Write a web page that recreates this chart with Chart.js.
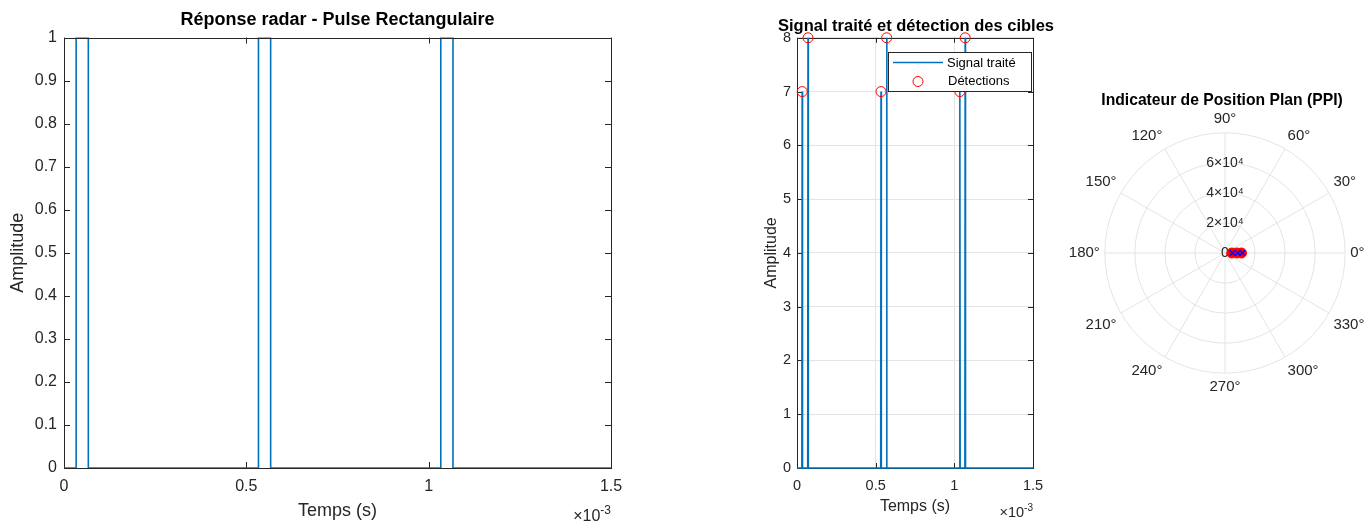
<!DOCTYPE html>
<html><head><meta charset="utf-8">
<script src="https://cdn.jsdelivr.net/npm/chart.js@4.4.0/dist/chart.umd.min.js"></script>
<style>
html,body{margin:0;padding:0;background:#fff;width:1364px;height:523px;overflow:hidden;position:relative;}
canvas{position:absolute;}
</style></head><body>
<canvas id="c1" width="675" height="523" style="left:0;top:0"></canvas>
<canvas id="c2" width="342" height="523" style="left:745px;top:0"></canvas>
<canvas id="c3" width="328" height="314" style="left:1058px;top:83px"></canvas>
<script>
// ---------- data: chart 1 (Réponse radar) ----------
const pulseTime = [0, 0.0333e-3, 0.0333e-3, 0.0667e-3, 0.0667e-3, 0.5333e-3, 0.5333e-3, 0.5667e-3, 0.5667e-3, 1.0333e-3, 1.0333e-3, 1.0667e-3, 1.0667e-3, 1.5e-3];
const pulseAmp  = [0, 0, 1, 1, 0, 0, 1, 1, 0, 0, 1, 1, 0, 0];
const timeTicks = [0, 0.5e-3, 1e-3, 1.5e-3];
const timeTickLabels = ['0', '0.5', '1', '1.5'];
const amp1Ticks = [0, 0.1, 0.2, 0.3, 0.4, 0.5, 0.6, 0.7, 0.8, 0.9, 1];
const amp1TickLabels = ['0', '0.1', '0.2', '0.3', '0.4', '0.5', '0.6', '0.7', '0.8', '0.9', '1'];

// ---------- data: chart 2 (Signal traité) ----------
const procTime = [0, 0.031e-3, 0.033e-3, 0.035e-3, 0.068e-3, 0.070e-3, 0.072e-3, 0.532e-3, 0.534e-3, 0.536e-3, 0.568e-3, 0.570e-3, 0.572e-3, 1.033e-3, 1.035e-3, 1.037e-3, 1.067e-3, 1.069e-3, 1.071e-3, 1.5e-3];
const procAmp  = [0, 0, 7, 0, 0, 8, 0, 0, 7, 0, 0, 8, 0, 0, 7, 0, 0, 8, 0, 0];
const detTime  = [0.033e-3, 0.070e-3, 0.534e-3, 0.570e-3, 1.035e-3, 1.069e-3];
const detAmp   = [7, 8, 7, 8, 7, 8];
const amp2Ticks = [0, 1, 2, 3, 4, 5, 6, 7, 8];
const amp2TickLabels = ['0', '1', '2', '3', '4', '5', '6', '7', '8'];

// ---------- data: chart 3 (PPI) ----------
const angleLabels = ['90°', '60°', '30°', '0°', '330°', '300°', '270°', '240°', '210°', '180°', '150°', '120°'];
const detAngleLabel = '0°';
const detRangeCircles = [4500, 8000, 11000];
const detRangeCrosses = [5000, 8500, 11500];
const rangeTicks = [0, 20000, 40000, 60000, 80000];
const rangeTickLabels = ['0', '2×10⁴', '4×10⁴', '6×10⁴', ''];

// ---------- styles ----------
const FONT = "'Liberation Sans', Arial, Helvetica, sans-serif";
const TXT = '#262626';
const GRIDC = '#e4e4e4';
const BLUE = '#0072BD';
const RED = '#FF0000';

Chart.defaults.font.family = FONT;
Chart.defaults.color = TXT;

function setTicks(values) { return s => { s.ticks = values.map(v => ({ value: v })); }; }

const boxPlugin = {
  id: 'mbox',
  beforeDatasetsDraw(chart, args, o) {
    const { ctx, chartArea: a } = chart;
    const x = chart.scales.x, y = chart.scales.y;
    ctx.save();
    ctx.strokeStyle = TXT; ctx.lineWidth = 1;
    ctx.beginPath();
    const L = o.tick || 5;
    x.ticks.forEach(t => {
      const p = Math.round(x.getPixelForValue(t.value)) + 0.5;
      ctx.moveTo(p, a.bottom); ctx.lineTo(p, a.bottom - L);
      ctx.moveTo(p, a.top); ctx.lineTo(p, a.top + L);
    });
    y.ticks.forEach(t => {
      const p = Math.round(y.getPixelForValue(t.value)) + 0.5;
      ctx.moveTo(a.left, p); ctx.lineTo(a.left + L, p);
      ctx.moveTo(a.right, p); ctx.lineTo(a.right - L, p);
    });
    ctx.stroke();
    ctx.strokeRect(Math.round(a.left) + 0.5, Math.round(a.top) + 0.5, Math.round(a.right - a.left), Math.round(a.bottom - a.top));
    // exponent label
    if (o.expSize) {
      ctx.fillStyle = TXT;
      ctx.textBaseline = 'alphabetic';
      ctx.textAlign = 'left';
      ctx.font = o.expSize + 'px ' + FONT;
      const base = o.expY;
      const w1 = ctx.measureText('×10').width;
      ctx.font = Math.round(o.expSize * 0.72) + 'px ' + FONT;
      const w2 = ctx.measureText('-3').width;
      const x0 = a.right - w1 - w2 + o.expDx;
      ctx.font = o.expSize + 'px ' + FONT;
      ctx.fillText('×10', x0, base);
      ctx.font = Math.round(o.expSize * 0.72) + 'px ' + FONT;
      ctx.fillText('-3', x0 + w1, base - o.expSize * 0.42);
    }
    ctx.restore();
  },
  afterDatasetsDraw(chart, args, o) {
    if (!o.topOver) return;
    const { ctx, chartArea: a } = chart;
    ctx.save();
    ctx.strokeStyle = TXT; ctx.lineWidth = 1;
    ctx.beginPath();
    ctx.moveTo(Math.round(a.left), Math.round(a.top) + 0.5);
    ctx.lineTo(Math.round(a.right) + 1, Math.round(a.top) + 0.5);
    ctx.stroke();
    ctx.restore();
  }
};

const legendPlugin = {
  id: 'mlegend',
  afterDatasetsDraw(chart, args, o) {
    if (!o.show) return;
    const { ctx, chartArea: a } = chart;
    const ds = chart.data.datasets;
    const right = Math.round(a.right) - 2, top = Math.round(a.top) + 14;
    const w = 143, h = 39;
    const left = right - w;
    ctx.save();
    ctx.fillStyle = '#fff';
    ctx.fillRect(left, top, w, h);
    ctx.strokeStyle = TXT; ctx.lineWidth = 1;
    ctx.strokeRect(left + 0.5, top + 0.5, w, h);
    ctx.font = '13px ' + FONT; ctx.fillStyle = '#000';
    ctx.textBaseline = 'middle'; ctx.textAlign = 'left';
    // entry 1: line
    ctx.strokeStyle = ds[0].borderColor; ctx.lineWidth = 1.5;
    ctx.beginPath(); ctx.moveTo(left + 5, top + 10.5); ctx.lineTo(left + 55, top + 10.5); ctx.stroke();
    ctx.fillText(ds[0].label, left + 59, top + 11);
    // entry 2: circle marker
    ctx.strokeStyle = ds[1].borderColor; ctx.lineWidth = 1;
    ctx.beginPath(); ctx.arc(left + 30, top + 29.5, 5, 0, Math.PI * 2); ctx.stroke();
    ctx.fillText(ds[1].label, left + 60, top + 29.5);
    ctx.restore();
  }
};

// ---------- chart 1 ----------
new Chart(document.getElementById('c1'), {
  type: 'scatter',
  data: { datasets: [{
    label: 'Pulse',
    data: pulseTime.map((t, i) => ({ x: t, y: pulseAmp[i] })),
    showLine: true, borderColor: BLUE, borderWidth: 1.6, pointRadius: 0, fill: false, tension: 0
  }] },
  options: {
    responsive: false, animation: false, events: [],
    layout: { padding: { left: 0, right: 64, top: 0, bottom: 0 } },
    plugins: {
      legend: { display: false }, tooltip: { enabled: false },
      title: { display: true, fullSize: false, text: 'Réponse radar - Pulse Rectangulaire', color: '#000',
        font: { family: FONT, size: 18, weight: 'bold' }, padding: { top: 9, bottom: 7 } },
      mbox: { tick: 6, expSize: 16, expY: 521, expDx: 0, topOver: true }
    },
    scales: {
      x: { type: 'linear', min: 0, max: 1.5e-3, afterBuildTicks: setTicks(timeTicks),
        afterFit: s => { s.height = 55; },
        ticks: { callback: (v, i) => timeTickLabels[i], font: { size: 16 }, color: TXT, padding: 9, maxRotation: 0 },
        grid: { display: false, drawTicks: false }, border: { display: false },
        title: { display: true, text: 'Temps (s)', font: { size: 18 }, color: TXT, padding: { top: 0, bottom: 1 } } },
      y: { min: 0, max: 1, afterBuildTicks: setTicks(amp1Ticks),
        afterFit: s => { s.width = 64; },
        ticks: { callback: (v, i) => amp1TickLabels[i], font: { size: 16 }, color: TXT, padding: 7 },
        grid: { display: false, drawTicks: false }, border: { display: false },
        title: { display: true, text: 'Amplitude', font: { size: 18 }, color: TXT, padding: { top: 7, bottom: 0 } } }
    }
  },
  plugins: [boxPlugin]
});

// ---------- chart 2 ----------
new Chart(document.getElementById('c2'), {
  type: 'scatter',
  data: { datasets: [
    { label: 'Signal traité', data: procTime.map((t, i) => ({ x: t, y: procAmp[i] })),
      showLine: true, borderColor: BLUE, borderWidth: 1.6, pointRadius: 0, fill: false, tension: 0, order: 2, clip: false },
    { label: 'Détections', data: detTime.map((t, i) => ({ x: t, y: detAmp[i] })),
      showLine: false, pointStyle: 'circle', pointRadius: 5, pointBorderWidth: 1, borderColor: RED,
      pointBorderColor: RED, backgroundColor: 'rgba(0,0,0,0)', pointBackgroundColor: 'rgba(0,0,0,0)', order: 1, clip: false }
  ] },
  options: {
    responsive: false, animation: false, events: [],
    layout: { padding: 0 },
    plugins: {
      legend: { display: false }, tooltip: { enabled: false },
      title: { display: true, fullSize: true, text: 'Signal traité et détection des cibles', color: '#000',
        font: { family: FONT, size: 16.5, weight: 'bold' }, padding: { top: 17, bottom: 1 } },
      mbox: { tick: 5, expSize: 14.5, expY: 517, expDx: 0, topOver: false },
      mlegend: { show: true }
    },
    scales: {
      x: { type: 'linear', min: 0, max: 1.5e-3, afterBuildTicks: setTicks(timeTicks),
        afterFit: s => { s.height = 55; },
        ticks: { callback: (v, i) => timeTickLabels[i], font: { size: 14.5 }, color: TXT, padding: 9, maxRotation: 0 },
        grid: { display: true, drawTicks: false, color: GRIDC }, border: { display: false },
        title: { display: true, text: 'Temps (s)', font: { size: 16 }, color: TXT, padding: { top: 0, bottom: 6.5 } } },
      y: { min: 0, max: 8, afterBuildTicks: setTicks(amp2Ticks),
        afterFit: s => { s.width = 52; },
        ticks: { callback: (v, i) => amp2TickLabels[i], font: { size: 14.5 }, color: TXT, padding: 6 },
        grid: { display: true, drawTicks: false, color: GRIDC }, border: { display: false },
        title: { display: true, text: 'Amplitude', font: { size: 16 }, color: TXT, padding: { top: 17, bottom: 0 } } },
      yR: { axis: 'y', position: 'right', display: true, min: 0, max: 8,
        afterFit: s => { s.width = 54; },
        ticks: { display: false }, grid: { display: false, drawTicks: false }, border: { display: false } }
    }
  },
  plugins: [boxPlugin, legendPlugin]
});

// ---------- chart 3 ----------
const zeroLabelPlugin = {
  id: 'zeroLabel',
  beforeDatasetsDraw(chart) {
    const r = chart.scales.r, ctx = chart.ctx;
    ctx.save();
    ctx.font = '14px ' + FONT; ctx.fillStyle = TXT;
    ctx.textAlign = 'center'; ctx.textBaseline = 'middle';
    ctx.fillText(rangeTickLabels[0], r.xCenter, r.yCenter);
    ctx.restore();
  }
};

const polarSets = [];
detRangeCircles.forEach(v => polarSets.push({
  label: 'cible', data: angleLabels.map(l => l === detAngleLabel ? v : null),
  showLine: false, borderWidth: 0, fill: false, pointStyle: 'circle', pointRadius: 5,
  pointBackgroundColor: RED, pointBorderColor: RED, pointBorderWidth: 1, order: 2
}));
detRangeCrosses.forEach(v => polarSets.push({
  label: 'x', data: angleLabels.map(l => l === detAngleLabel ? v : null),
  showLine: false, borderWidth: 0, fill: false, pointStyle: 'crossRot', pointRadius: 4,
  pointBackgroundColor: '#0000FF', pointBorderColor: '#0000FF', pointBorderWidth: 1.3, order: 1
}));

new Chart(document.getElementById('c3'), {
  type: 'radar',
  data: { labels: angleLabels, datasets: polarSets },
  options: {
    responsive: false, animation: false, events: [],
    layout: { padding: 0 },
    plugins: {
      legend: { display: false }, tooltip: { enabled: false },
      title: { display: true, fullSize: true, text: 'Indicateur de Position Plan (PPI)', color: '#000',
        font: { family: FONT, size: 15.7, weight: 'bold' }, padding: { top: 8, bottom: 0 } }
    },
    scales: {
      r: { min: 0, max: 80000, startAngle: 0, afterBuildTicks: setTicks(rangeTicks),
        ticks: { callback: (v, i) => rangeTickLabels[i], font: { size: 14 }, color: TXT, showLabelBackdrop: false },
        grid: { circular: true, color: GRIDC }, angleLines: { display: true, color: GRIDC },
        pointLabels: { font: { size: 15 }, color: TXT, padding: -4 } }
    }
  },
  plugins: [zeroLabelPlugin]
});
</script>
</body></html>
